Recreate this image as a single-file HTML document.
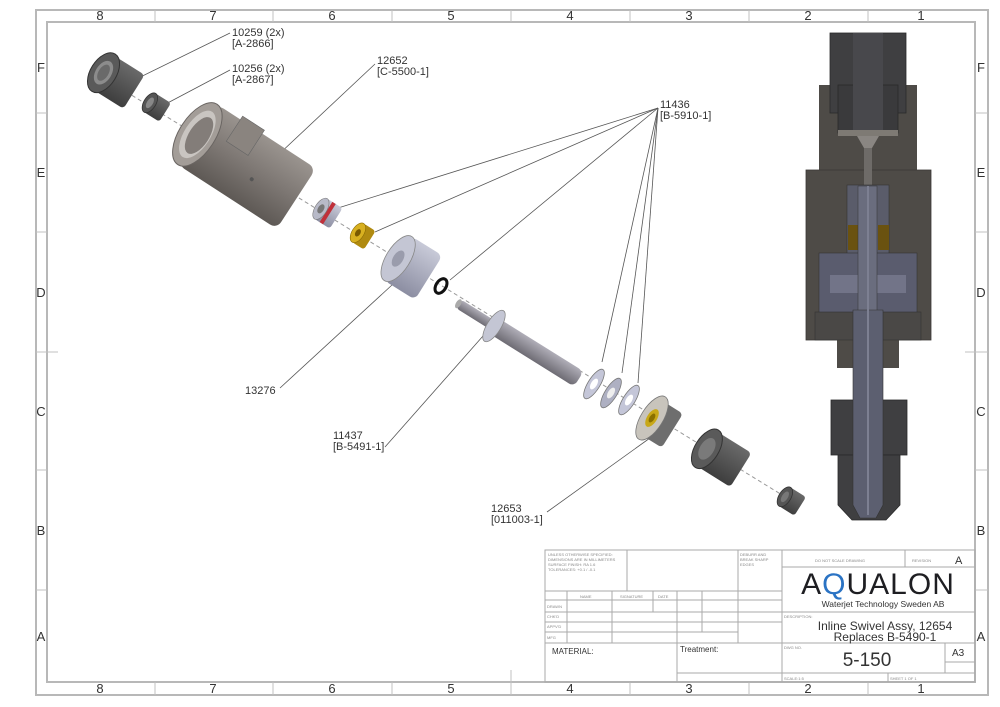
<!DOCTYPE html>
<html><head><meta charset="utf-8"><style>
html,body{margin:0;padding:0;background:#fff;}
svg{display:block;font-family:"Liberation Sans","DejaVu Sans",sans-serif;}
</style></head><body>
<svg width="1000" height="707" viewBox="0 0 1000 707" xmlns="http://www.w3.org/2000/svg">
<defs>
<linearGradient id="gbody" x1="0" y1="0" x2="0" y2="1"><stop offset="0" stop-color="#9a948f"/><stop offset="0.5" stop-color="#7d7773"/><stop offset="1" stop-color="#5e5955"/></linearGradient>
<linearGradient id="gdark" x1="0" y1="0" x2="0" y2="1"><stop offset="0" stop-color="#6a6a6a"/><stop offset="1" stop-color="#3e3e3e"/></linearGradient>
<linearGradient id="gblue" x1="0" y1="0" x2="0" y2="1"><stop offset="0" stop-color="#c8cad8"/><stop offset="1" stop-color="#8c8ea2"/></linearGradient>
<linearGradient id="gstem" x1="0" y1="0" x2="0" y2="1"><stop offset="0" stop-color="#b0aeb8"/><stop offset="1" stop-color="#6e6c74"/></linearGradient>
</defs>
<!-- frame -->
<g fill="none" stroke="#b8b8b8" stroke-width="2">
<rect x="36" y="10" width="952" height="685"/>
<rect x="47" y="22" width="928" height="660"/>
</g>
<g stroke="#c0c0c0" stroke-width="1">
<line x1="155" y1="10" x2="155" y2="22"/><line x1="273" y1="10" x2="273" y2="22"/><line x1="392" y1="10" x2="392" y2="22"/><line x1="511" y1="10" x2="511" y2="22"/><line x1="630" y1="10" x2="630" y2="22"/><line x1="749" y1="10" x2="749" y2="22"/><line x1="868" y1="10" x2="868" y2="22"/>
<line x1="155" y1="682" x2="155" y2="695"/><line x1="273" y1="682" x2="273" y2="695"/><line x1="392" y1="682" x2="392" y2="695"/><line x1="511" y1="682" x2="511" y2="695"/><line x1="630" y1="682" x2="630" y2="695"/><line x1="749" y1="682" x2="749" y2="695"/><line x1="868" y1="682" x2="868" y2="695"/>
<line x1="36" y1="113" x2="47" y2="113"/><line x1="36" y1="232" x2="47" y2="232"/><line x1="36" y1="352" x2="58" y2="352"/><line x1="36" y1="470" x2="47" y2="470"/><line x1="36" y1="590" x2="47" y2="590"/>
<line x1="975" y1="113" x2="988" y2="113"/><line x1="975" y1="232" x2="988" y2="232"/><line x1="965" y1="352" x2="988" y2="352"/><line x1="975" y1="470" x2="988" y2="470"/><line x1="975" y1="590" x2="988" y2="590"/>
<line x1="511" y1="670" x2="511" y2="682"/>
</g>
<g font-size="13" fill="#333" text-anchor="middle">
<text x="100" y="20">8</text><text x="213" y="20">7</text><text x="332" y="20">6</text><text x="451" y="20">5</text><text x="570" y="20">4</text><text x="689" y="20">3</text><text x="808" y="20">2</text><text x="921" y="20">1</text>
<text x="100" y="693">8</text><text x="213" y="693">7</text><text x="332" y="693">6</text><text x="451" y="693">5</text><text x="570" y="693">4</text><text x="689" y="693">3</text><text x="808" y="693">2</text><text x="921" y="693">1</text>
<text x="41" y="72">F</text><text x="41" y="177">E</text><text x="41" y="297">D</text><text x="41" y="416">C</text><text x="41" y="535">B</text><text x="41" y="641">A</text>
<text x="981" y="72">F</text><text x="981" y="177">E</text><text x="981" y="297">D</text><text x="981" y="416">C</text><text x="981" y="535">B</text><text x="981" y="641">A</text>
</g>

<!-- axis dashed -->
<line x1="120" y1="88" x2="800" y2="506" stroke="#999" stroke-width="1" stroke-dasharray="4,3"/>

<!-- leaders -->
<g stroke="#555" stroke-width="0.8" fill="none">
<line x1="230" y1="33" x2="118" y2="88"/>
<line x1="230" y1="70" x2="160" y2="107"/>
<line x1="375" y1="64" x2="277" y2="156"/>
<line x1="658" y1="108" x2="338" y2="208"/>
<line x1="658" y1="108" x2="375" y2="232"/>
<line x1="658" y1="108" x2="450" y2="280"/>
<line x1="658" y1="108" x2="602" y2="362"/>
<line x1="658" y1="108" x2="622" y2="373"/>
<line x1="658" y1="108" x2="638" y2="383"/>
<line x1="280" y1="388" x2="392" y2="285"/>
<line x1="385" y1="447" x2="483" y2="336"/>
<line x1="547" y1="512" x2="650" y2="438"/>
</g>
<g font-size="11" fill="#333">
<text x="232" y="36">10259 (2x)</text><text x="232" y="47">[A-2866]</text>
<text x="232" y="72">10256 (2x)</text><text x="232" y="83">[A-2867]</text>
<text x="377" y="64">12652</text><text x="377" y="75">[C-5500-1]</text>
<text x="660" y="108">11436</text><text x="660" y="119">[B-5910-1]</text>
<text x="245" y="394">13276</text>
<text x="333" y="439">11437</text><text x="333" y="450">[B-5491-1]</text>
<text x="491" y="512">12653</text><text x="491" y="523">[011003-1]</text>
</g>

<!-- parts -->
<!-- nut 10259 -->
<g transform="translate(112,78) rotate(32)">
<rect x="-10" y="-20" width="36" height="40" rx="4" fill="url(#gdark)"/>
<ellipse cx="-10" cy="0" rx="13" ry="22" fill="#5a5a5a" stroke="#333" stroke-width="1"/>
<ellipse cx="-10" cy="0" rx="8" ry="13" fill="#8c8c8c"/>
<ellipse cx="-10" cy="0" rx="5" ry="9" fill="#6a6a6a"/>
</g>
<!-- 10256 -->
<g transform="translate(155,106) rotate(32)">
<rect x="-6" y="-11" width="18" height="22" rx="3" fill="url(#gdark)"/>
<ellipse cx="-6" cy="0" rx="6" ry="11" fill="#555" stroke="#333" stroke-width="0.8"/>
<ellipse cx="-6" cy="0" rx="3" ry="6" fill="#888"/>
</g>
<!-- body 12652 -->
<g transform="translate(246,166) rotate(33)">
<rect x="-58" y="-36" width="118" height="72" rx="8" fill="url(#gbody)"/>
<rect x="-30" y="-40" width="26" height="30" fill="#8a847f" stroke="#666" stroke-width="0.6"/>
<ellipse cx="-58" cy="0" rx="18" ry="36" fill="#a39d98" stroke="#6a6562" stroke-width="1"/>
<ellipse cx="-58" cy="0" rx="13" ry="27" fill="#c9c5c1"/>
<ellipse cx="-56" cy="0" rx="10" ry="21" fill="#837d79"/>
<circle cx="12" cy="8" r="2" fill="#555"/>
</g>
<!-- red-gray part -->
<g transform="translate(326,212) rotate(32)">
<rect x="-6" y="-12" width="18" height="24" rx="3" fill="url(#gblue)"/>
<rect x="0" y="-12" width="4" height="24" fill="#c0303a"/>
<ellipse cx="-6" cy="0" rx="6" ry="12" fill="#b8bac8" stroke="#777" stroke-width="0.6"/>
<ellipse cx="-6" cy="0" rx="3" ry="5" fill="#777"/>
</g>
<!-- gold -->
<g transform="translate(363,236) rotate(32)">
<rect x="-6" y="-11" width="14" height="22" rx="3" fill="#b08a10"/>
<ellipse cx="-6" cy="0" rx="6" ry="11" fill="#d8b020" stroke="#8a6a00" stroke-width="0.6"/>
<ellipse cx="-6" cy="0" rx="2.5" ry="4" fill="#7a5a00"/>
</g>
<!-- blue cup 13276 -->
<g transform="translate(410,266) rotate(32)">
<rect x="-14" y="-26" width="36" height="52" rx="6" fill="url(#gblue)"/>
<ellipse cx="-14" cy="0" rx="12" ry="26" fill="#c4c6d4" stroke="#888" stroke-width="0.8"/>
<ellipse cx="-14" cy="0" rx="5" ry="9" fill="#9a9cac"/>
</g>
<!-- o-ring -->
<ellipse cx="441" cy="286" rx="5" ry="8" transform="rotate(32 441 286)" fill="none" stroke="#111" stroke-width="3"/>
<!-- stem 11437 -->
<g transform="translate(494,326) rotate(32)">
<rect x="-42" y="-5" width="42" height="10" rx="4" fill="url(#gstem)"/>
<rect x="0" y="-9" width="100" height="18" rx="6" fill="url(#gstem)"/>
<ellipse cx="0" cy="0" rx="7" ry="18" fill="#c4c6d4" stroke="#888" stroke-width="0.8"/>
<ellipse cx="-42" cy="0" rx="2.5" ry="5" fill="#aaa"/>
</g>
<!-- washers -->
<g transform="translate(594,384) rotate(32)"><ellipse cx="0" cy="0" rx="6" ry="17" fill="#c4c6d8" stroke="#777" stroke-width="0.8"/><ellipse cx="0" cy="0" rx="3" ry="6" fill="#fff"/></g>
<g transform="translate(611,393) rotate(32)"><ellipse cx="0" cy="0" rx="6" ry="17" fill="#aeb0c2" stroke="#777" stroke-width="0.8"/><ellipse cx="0" cy="0" rx="3" ry="6" fill="#eee"/></g>
<g transform="translate(629,400) rotate(32)"><ellipse cx="0" cy="0" rx="6" ry="17" fill="#c4c6d8" stroke="#777" stroke-width="0.8"/><ellipse cx="0" cy="0" rx="3" ry="6" fill="#fff"/></g>
<!-- bronze nut 12653 -->
<g transform="translate(652,418) rotate(32)">
<rect x="0" y="-20" width="24" height="40" rx="4" fill="#6e6e6e"/>
<ellipse cx="0" cy="0" rx="11" ry="25" fill="#c8c4bc" stroke="#777" stroke-width="0.8"/>
<ellipse cx="0" cy="0" rx="5" ry="10" fill="#c8a818"/>
<ellipse cx="0" cy="0" rx="2.5" ry="5" fill="#8a7000"/>
</g>
<!-- nut -->
<g transform="translate(712,452) rotate(32)">
<rect x="-6" y="-20" width="40" height="40" rx="4" fill="url(#gdark)"/>
<ellipse cx="-6" cy="0" rx="12" ry="22" fill="#5a5a5a" stroke="#333" stroke-width="1"/>
<ellipse cx="-6" cy="0" rx="7" ry="12" fill="#7a7a7a"/>
</g>
<!-- small nut -->
<g transform="translate(790,500) rotate(32)">
<rect x="-6" y="-11" width="18" height="22" rx="3" fill="url(#gdark)"/>
<ellipse cx="-6" cy="0" rx="6" ry="11" fill="#555" stroke="#333" stroke-width="0.8"/>
<ellipse cx="-6" cy="0" rx="3" ry="6" fill="#777"/>
</g>

<!-- section view -->
<g>
<rect x="819" y="85" width="98" height="90" fill="#4e4b47"/>
<rect x="806" y="170" width="125" height="170" fill="#4e4b47" stroke="#3a3835" stroke-width="0.8"/>
<rect x="837" y="338" width="62" height="30" fill="#4e4b47"/>
<rect x="830" y="33" width="76" height="80" fill="#3f3f41" stroke="#2a2a2a" stroke-width="0.8"/>
<rect x="838" y="85" width="60" height="48" fill="#3a3a3c" stroke="#2a2a2a" stroke-width="0.8"/>
<rect x="853" y="33" width="30" height="100" fill="#48484c"/>
<rect x="838" y="130" width="60" height="6" fill="#7e7a74"/>
<polygon points="857,136 879,136 872,148 864,148" fill="#8a8682"/>
<rect x="864" y="148" width="8" height="40" fill="#6e6b68"/>
<rect x="847" y="185" width="42" height="70" fill="#5a5c6a" stroke="#333" stroke-width="0.6"/>
<rect x="848" y="225" width="11" height="25" fill="#6a5210"/>
<rect x="878" y="225" width="11" height="25" fill="#6a5210"/>
<rect x="819" y="253" width="98" height="62" fill="#5a5c6e" stroke="#333" stroke-width="0.6"/>
<rect x="830" y="275" width="76" height="18" fill="#727488"/>
<rect x="815" y="312" width="106" height="28" fill="#4a4846" stroke="#333" stroke-width="0.6"/>
<rect x="831" y="400" width="76" height="55" fill="#3f3f41" stroke="#2a2a2a" stroke-width="0.8"/>
<polygon points="838,455 900,455 900,505 886,520 852,520 838,505" fill="#3f3f41" stroke="#2a2a2a" stroke-width="0.8"/>
<rect x="858" y="186" width="19" height="125" fill="#6a6d7e" stroke="#333" stroke-width="0.5"/>
<polygon points="853,310 883,310 883,505 876,518 860,518 853,505" fill="#5c5f70" stroke="#333" stroke-width="0.6"/>
<line x1="868" y1="186" x2="868" y2="515" stroke="#7d8092" stroke-width="2"/>
</g>

<!-- title block -->
<g fill="none" stroke="#aaa" stroke-width="1">
<rect x="545" y="550" width="430" height="132"/>
<line x1="782" y1="550" x2="782" y2="682"/>
<line x1="627" y1="550" x2="627" y2="591"/>
<line x1="738" y1="550" x2="738" y2="643"/>
<line x1="545" y1="591" x2="782" y2="591"/>
<line x1="545" y1="600" x2="782" y2="600"/>
<line x1="545" y1="612" x2="782" y2="612"/>
<line x1="545" y1="622" x2="782" y2="622"/>
<line x1="545" y1="632" x2="738" y2="632"/>
<line x1="545" y1="643" x2="782" y2="643"/>
<line x1="677" y1="673" x2="782" y2="673"/>
<line x1="567" y1="591" x2="567" y2="643"/>
<line x1="612" y1="591" x2="612" y2="643"/>
<line x1="653" y1="591" x2="653" y2="612"/>
<line x1="677" y1="591" x2="677" y2="682"/>
<line x1="702" y1="591" x2="702" y2="632"/>
<line x1="782" y1="567" x2="975" y2="567"/>
<line x1="905" y1="550" x2="905" y2="567"/>
<line x1="782" y1="612" x2="975" y2="612"/>
<line x1="782" y1="643" x2="975" y2="643"/>
<line x1="782" y1="673" x2="975" y2="673"/>
<line x1="945" y1="643" x2="945" y2="673"/>
<line x1="945" y1="662" x2="975" y2="662"/>
<line x1="888" y1="673" x2="888" y2="682"/>
</g>
<g fill="#888" font-size="4">
<text x="548" y="556">UNLESS OTHERWISE SPECIFIED:</text>
<text x="548" y="561">DIMENSIONS ARE IN MILLIMETERS</text>
<text x="548" y="566">SURFACE FINISH: RA 1.6</text>
<text x="548" y="571">TOLERANCES: +0.1 / -0.1</text>
<text x="740" y="556">DEBURR AND</text><text x="740" y="561">BREAK SHARP</text><text x="740" y="566">EDGES</text>
<text x="580" y="598">NAME</text><text x="620" y="598">SIGNATURE</text><text x="658" y="598">DATE</text>
<text x="547" y="608">DRAWN</text><text x="547" y="618">CHK'D</text><text x="547" y="628">APPV'D</text><text x="547" y="639">MFG</text>
<text x="815" y="562">DO NOT SCALE DRAWING</text><text x="912" y="562">REVISION</text>
<text x="784" y="618">DESCRIPTION:</text><text x="784" y="649">DWG NO.</text>
<text x="784" y="680">SCALE:1:5</text><text x="890" y="680">SHEET 1 OF 1</text>
</g>
<g fill="#333">
<text x="955" y="564" font-size="11">A</text>
<text x="552" y="654" font-size="8">MATERIAL:</text>
<text x="680" y="652" font-size="8">Treatment:</text>
<text x="878" y="594" font-size="30" text-anchor="middle" letter-spacing="1" fill="#1e1e22">A<tspan fill="#2a73c4">Q</tspan>UALON</text>
<text x="883" y="607" font-size="8.5" text-anchor="middle">Waterjet Technology Sweden AB</text>
<text x="885" y="630" font-size="12" text-anchor="middle">Inline Swivel Assy, 12654</text>
<text x="885" y="641" font-size="12" text-anchor="middle">Replaces B-5490-1</text>
<text x="867" y="666" font-size="19" text-anchor="middle">5-150</text>
<text x="952" y="656" font-size="10">A3</text>
</g>
</svg>
</body></html>
